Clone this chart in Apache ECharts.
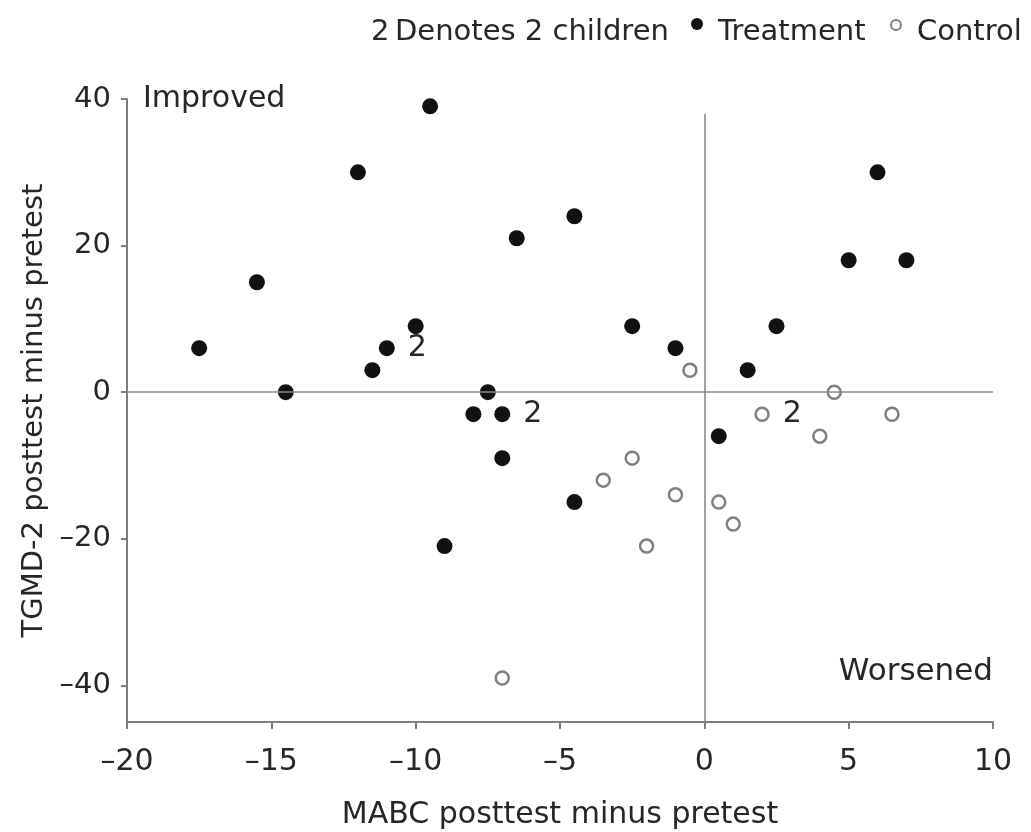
<!DOCTYPE html>
<html>
<head>
<meta charset="utf-8">
<script src="https://cdn.jsdelivr.net/npm/echarts@6/dist/echarts.min.js"></script>
<style>html,body{margin:0;padding:0;background:#fff}#c{width:1031px;height:832px}</style>
</head>
<body>
<div id="c"></div>
<script>
// Treatment children: [MABC change, TGMD-2 change]
const treatment = [
  [-17.5, 6], [-15.5, 15], [-14.5, 0], [-12, 30], [-11.5, 3], [-11, 6],
  [-10, 9], [-9.5, 39], [-9, -21], [-8, -3], [-7.5, 0], [-7, -3],
  [-7, -9], [-6.5, 21], [-4.5, 24], [-4.5, -15], [-2.5, 9], [-1, 6],
  [0.5, -6], [1.5, 3], [2.5, 9], [5, 18], [6, 30], [7, 18]
];
// Control children
const control = [
  [-7, -39], [-3.5, -12], [-2.5, -9], [-2, -21], [-1, -14], [-0.5, 3],
  [0.5, -15], [1, -18], [2, -3], [4, -6], [4.5, 0], [6.5, -3]
];
// Points that represent 2 children
const twins = [[-11, 6], [-7, -3], [2, -3]];
const xTicks = [-20, -15, -10, -5, 0, 5, 10];
const yTicks = [-40, -20, 0, 20, 40];

const FONT = 'DejaVu Sans';
const TXT = '#262626';
const AX = '#7d7d7d';

function isTwin(p) { return twins.some(t => t[0] === p[0] && t[1] === p[1]); }
function withLabels(arr) {
  return arr.map(p => isTwin(p)
    ? { value: p, label: { show: true, formatter: '2', position: 'right', distance: 13,
        color: TXT, fontSize: 30, fontFamily: FONT } }
    : { value: p });
}
const fmt = v => String(v).replace('-', '\u2013');

const chart = echarts.init(document.getElementById('c'), null, { renderer: 'canvas' });
chart.setOption({
  animation: false,
  backgroundColor: '#fff',
  grid: { left: 127, right: 38, top: 99, bottom: 110, containLabel: false, outerBoundsMode: 'none' },
  xAxis: {
    type: 'value', min: -20, max: 10, interval: 5,
    name: 'MABC posttest minus pretest', nameLocation: 'middle', nameGap: 78,
    nameTextStyle: { color: TXT, fontSize: 30, fontFamily: FONT },
    axisLine: { show: true, onZero: false, lineStyle: { color: AX, width: 2 } },
    axisTick: { show: true, length: 7, lineStyle: { color: AX, width: 2 } },
    axisLabel: { color: TXT, fontSize: 30, fontFamily: FONT, margin: 25, formatter: fmt,
      customValues: xTicks },
    splitLine: { show: false }
  },
  yAxis: {
    type: 'value', min: -45, max: 40,
    name: 'TGMD-2 posttest minus pretest', nameLocation: 'middle', nameGap: 69,
    nameRotate: 90,
    nameTextStyle: { color: TXT, fontSize: 29, fontFamily: FONT },
    axisLine: { show: true, onZero: false, lineStyle: { color: AX, width: 2 } },
    axisTick: { show: true, length: 6, lineStyle: { color: AX, width: 2 }, customValues: yTicks },
    axisLabel: { color: TXT, fontSize: 29, fontFamily: FONT, margin: 16, formatter: fmt,
      customValues: yTicks },
    splitLine: { show: false }
  },
  series: [
    {
      name: 'Treatment', type: 'scatter', symbol: 'circle', symbolSize: 16,
      itemStyle: { color: '#111', opacity: 1 },
      data: withLabels(treatment),
      z: 3,
      markLine: {
        silent: true, symbol: 'none', label: { show: false },
        lineStyle: { color: '#8a8a8a', width: 1.6, type: 'solid' },
        data: [
          [{ coord: [-20, 0] }, { coord: [10, 0] }],
          [{ coord: [0, -45] }, { coord: [0, 38] }]
        ]
      }
    },
    {
      name: 'Control', type: 'scatter', symbol: 'circle', symbolSize: 13,
      itemStyle: { color: '#fff', borderColor: '#808080', borderWidth: 2.5, opacity: 1 },
      data: withLabels(control),
      z: 3
    }
  ],
  graphic: [
    { type: 'text', left: 143, top: 84, style: { text: 'Improved', fill: TXT, font: '30px "DejaVu Sans"' } },
    { type: 'text', right: 38, top: 656, style: { text: 'Worsened', fill: TXT, font: '31px "DejaVu Sans"' } },
    { type: 'text', left: 371, top: 18, style: { text: '2', fill: TXT, font: '29px "DejaVu Sans"' } },
    { type: 'text', left: 395, top: 18, style: { text: 'Denotes 2 children', fill: TXT, font: '29px "DejaVu Sans"' } },
    { type: 'circle', shape: { cx: 697, cy: 24, r: 6 }, style: { fill: '#111' } },
    { type: 'text', left: 718, top: 18, style: { text: 'Treatment', fill: TXT, font: '29px "DejaVu Sans"' } },
    { type: 'circle', shape: { cx: 896, cy: 25, r: 5 }, style: { fill: '#fff', stroke: '#808080', lineWidth: 2 } },
    { type: 'text', left: 917, top: 18, style: { text: 'Control', fill: TXT, font: '29px "DejaVu Sans"' } }
  ]
});
</script>
</body>
</html>
